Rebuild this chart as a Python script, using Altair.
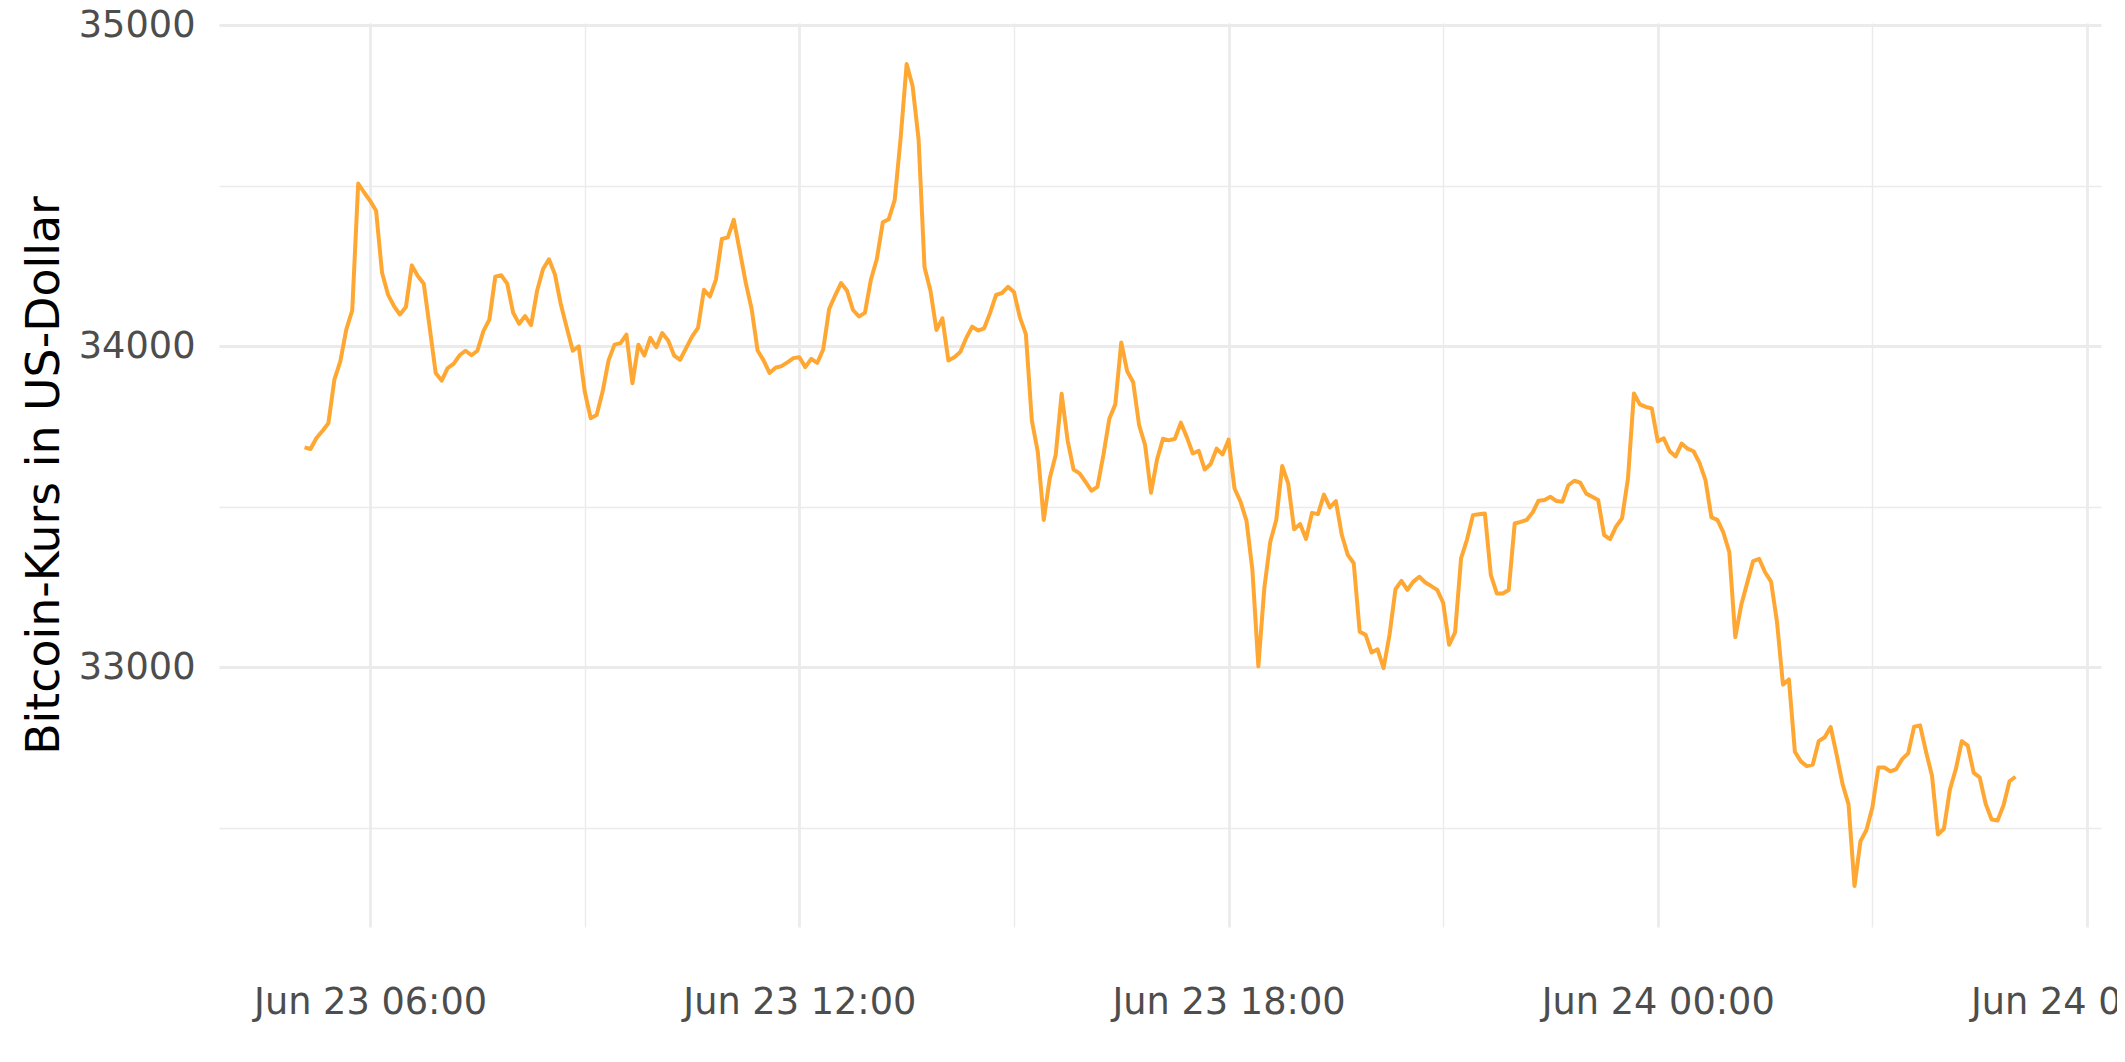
import altair as alt
import pandas as pd

# ---- data (5-minute Bitcoin prices, Jun 23 2021 05:05 -> Jun 24 2021 05:00) ----
start_time = "2021-06-23 05:05"
step = "5min"
prices = [
    33685, 33680, 33714, 33736, 33760, 33896, 33953, 34052, 34112, 34507,
    34479, 34453, 34422, 34229, 34161, 34125, 34099, 34122, 34252, 34219,
    34195, 34057, 33917, 33893, 33932, 33945, 33972, 33986, 33972, 33986,
    34047, 34083, 34217, 34221, 34195, 34104, 34070, 34094, 34066, 34172,
    34240, 34271, 34224, 34130, 34057, 33986, 34000, 33859, 33776, 33786,
    33859, 33956, 34005, 34010, 34036, 33885, 34005, 33971, 34026, 33997,
    34041, 34018, 33971, 33958, 33994, 34030, 34057, 34176, 34155, 34207,
    34334, 34339, 34394, 34298, 34199, 34116, 33987, 33956, 33917, 33933,
    33938, 33950, 33963, 33966, 33935, 33961, 33948, 33990, 34116, 34158,
    34197, 34173, 34113, 34093, 34104, 34207, 34272, 34386, 34396, 34456,
    34650, 34879, 34811, 34645, 34246, 34173, 34051, 34087, 33956, 33966,
    33982, 34026, 34061, 34049, 34056, 34104, 34160, 34166, 34185, 34169,
    34090, 34038, 33769, 33671, 33459, 33588, 33661, 33852, 33707, 33616,
    33604, 33578, 33550, 33562, 33661, 33774, 33819, 34012, 33922, 33888,
    33754, 33692, 33544, 33647, 33712, 33707, 33712, 33762, 33717, 33666,
    33674, 33616, 33633, 33681, 33663, 33709, 33557, 33516, 33457, 33303,
    33003, 33247, 33391, 33459, 33627, 33573, 33430, 33446, 33400, 33481,
    33477, 33538, 33498, 33518, 33412, 33350, 33324, 33111, 33101, 33046,
    33056, 32997, 33101, 33243, 33269, 33241, 33267, 33282, 33264, 33253,
    33241, 33201, 33070, 33109, 33339, 33398, 33474, 33477, 33479, 33287,
    33230, 33230, 33241, 33448, 33453, 33459, 33482, 33519, 33521, 33531,
    33518, 33516, 33567, 33581, 33575, 33541, 33531, 33521, 33412, 33399,
    33438, 33464, 33588, 33853, 33819, 33811, 33806, 33704, 33713, 33673,
    33657, 33697, 33681, 33673, 33637, 33583, 33467, 33459, 33420, 33359,
    33094, 33194, 33263, 33331, 33338, 33296, 33267, 33141, 32946, 32962,
    32737, 32707, 32692, 32697, 32770, 32782, 32814, 32728, 32636, 32573,
    32319, 32458, 32493, 32563, 32688, 32688, 32676, 32683, 32714, 32732,
    32815, 32819, 32737, 32662, 32479, 32497, 32619, 32683, 32770, 32756,
    32671, 32657, 32575, 32526, 32523, 32570, 32645, 32659,
]

y_major = [33000, 34000, 35000]
y_minor = [32500, 33500, 34500]
y_domain = [32191, 35007]

# axis tick positions (year, month, day, hour)
x_major_ticks = [(2021, 6, 23, 6), (2021, 6, 23, 12), (2021, 6, 23, 18),
                 (2021, 6, 24, 0), (2021, 6, 24, 6)]
x_minor_ticks = [(2021, 6, 23, 9), (2021, 6, 23, 15), (2021, 6, 23, 21),
                 (2021, 6, 24, 3)]
x_domain_ends = [(2021, 6, 23, 3, 53, 15), (2021, 6, 24, 6, 11, 45)]

y_title = "Bitcoin-Kurs in US-Dollar"

# ---- build ----
times = pd.date_range(start=start_time, periods=len(prices), freq=step)
df = pd.DataFrame({"Zeit": times, "Kurs": prices})


def dt(t):
    y, mo, d, h = t[:4]
    mi = t[4] if len(t) > 4 else 0
    s = t[5] if len(t) > 5 else 0
    return alt.DateTime(year=y, month=mo, date=d, hours=h, minutes=mi, seconds=s)


FONT = "DejaVu Sans"
GRID = "#EBEBEB"
x_scale = alt.Scale(domain=[dt(t) for t in x_domain_ends], nice=False)
y_scale = alt.Scale(domain=y_domain, nice=False, zero=False)

major_x_axis = alt.Axis(
    values=[dt(t) for t in x_major_ticks], format="%b %d %H:%M", title=None,
    grid=True, gridColor=GRID, gridWidth=2.8, domain=False, ticks=False,
    tickSize=0, labelPadding=57, labelFlush=False, labelOverlap=False,
    labelLimit=0, labelFont=FONT, labelFontSize=36.7, labelColor="#4D4D4D",
    orient="bottom",
)
major_y_axis = alt.Axis(
    values=y_major, format="d", title=y_title,
    grid=True, gridColor=GRID, gridWidth=2.8, domain=False, ticks=False,
    tickSize=0, labelPadding=24, labelLimit=0, labelFont=FONT,
    labelFontSize=36.7, labelColor="#4D4D4D", orient="left",
    titleFont=FONT, titleFontSize=45.8, titleFontWeight="normal",
    titleColor="#000000", titleAngle=270, titleX=-161, titleY=452,
    titleAlign="center", titleBaseline="alphabetic", titleLimit=0,
)
minor_x_axis = alt.Axis(
    values=[dt(t) for t in x_minor_ticks], title=None, labels=False,
    grid=True, gridColor=GRID, gridWidth=1.4, domain=False, ticks=False,
    tickSize=0, orient="top",
)
minor_y_axis = alt.Axis(
    values=y_minor, title=None, labels=False,
    grid=True, gridColor=GRID, gridWidth=1.4, domain=False, ticks=False,
    tickSize=0, orient="right",
)

minor = alt.Chart(df).mark_line(strokeOpacity=0).encode(
    x=alt.X("Zeit:T", scale=x_scale, axis=minor_x_axis),
    y=alt.Y("Kurs:Q", scale=y_scale, axis=minor_y_axis),
)

line = alt.Chart(df).mark_line(
    color="#FFA733", strokeWidth=4.0, strokeJoin="round", strokeCap="butt"
).encode(
    x=alt.X("Zeit:T", scale=x_scale, axis=major_x_axis),
    y=alt.Y("Kurs:Q", scale=y_scale, axis=major_y_axis),
)

chart = alt.layer(minor, line).resolve_axis(
    x="independent", y="independent"
).resolve_scale(x="shared", y="shared").properties(
    width=1882, height=904,
    autosize=alt.AutoSizeParams(type="none"),
    padding={"left": 211, "top": 15, "right": 16, "bottom": 110},
    background="white",
).configure_view(stroke=None)

chart.save("out.html", embed_options={"renderer": "svg", "actions": False})
